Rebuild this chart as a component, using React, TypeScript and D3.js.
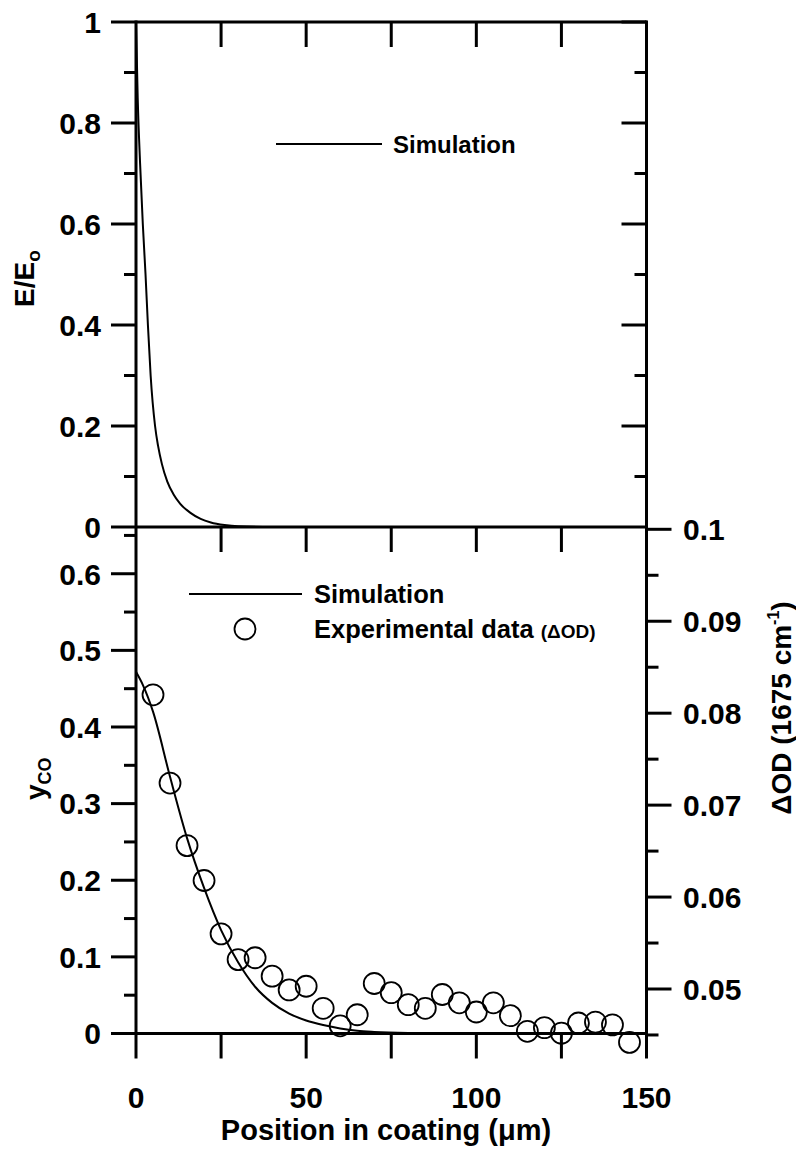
import React from 'react';
import * as d3 from 'd3';

// ---------- data ----------
// Top panel: simulated field E/Eo vs position (µm)
const fieldX = [0, 0.5, 1.2, 2.0, 2.8, 3.5, 4.3, 5.6, 6.5, 7.6, 9.2, 11, 13, 16, 19, 22, 26, 30, 40, 60, 150];
const fieldY = [1.0, 0.85, 0.72, 0.6, 0.5, 0.4, 0.3, 0.2, 0.16, 0.125, 0.09, 0.065, 0.046, 0.028, 0.016, 0.009, 0.004, 0.0015, 0.0002, 0, 0];

// Bottom panel: simulated y_CO vs position
const simX = [0, 2, 5, 10, 15, 20, 25, 30, 35, 40, 45, 50, 55, 60, 65, 70, 80, 90, 100, 150];
const simY = [0.472, 0.455, 0.42, 0.335, 0.255, 0.19, 0.135, 0.093, 0.061, 0.04, 0.026, 0.017, 0.011, 0.0065, 0.0035, 0.002, 0.0006, 0.0002, 0, 0];

// Bottom panel: experimental ΔOD (1675 cm-1) vs position
const expX = [5, 10, 15, 20, 25, 30, 35, 40, 45, 50, 55, 60, 65, 70, 75, 80, 85, 90, 95, 100, 105, 110, 115, 120, 125, 130, 135, 140, 145];
const expOD = [0.0820, 0.0724, 0.0656, 0.0618, 0.0560, 0.0532, 0.0534, 0.0514, 0.0499, 0.0503, 0.0479, 0.0460, 0.0472, 0.0506, 0.0496, 0.0483, 0.0479, 0.0494, 0.0485, 0.0475, 0.0485, 0.0471, 0.0454, 0.0458, 0.0452, 0.0463, 0.0464, 0.0461, 0.0442];

// Tick labels
const xTickVals = [0, 50, 100, 150];
const xTickLabels = ['0', '50', '100', '150'];
const topYTickVals = [0, 0.2, 0.4, 0.6, 0.8, 1];
const topYTickLabels = ['0', '0.2', '0.4', '0.6', '0.8', '1'];
const botYTickVals = [0, 0.1, 0.2, 0.3, 0.4, 0.5, 0.6];
const botYTickLabels = ['0', '0.1', '0.2', '0.3', '0.4', '0.5', '0.6'];
const odTickVals = [0.05, 0.06, 0.07, 0.08, 0.09, 0.1];
const odTickLabels = ['0.05', '0.06', '0.07', '0.08', '0.09', '0.1'];

// ---------- layout ----------
const W = 796, H = 1152;
const xL = 136, xR = 646.5;
const yTop = 22, yMid = 527, yBot = 1033.5;
const FONT = '"Liberation Sans", Arial, Helvetica, sans-serif';
const MAJ = 25, MIN = 12;
const AX = 3;

export default function App() {
  const x = d3.scaleLinear().domain([0, 150]).range([xL, xR]);
  const yE = d3.scaleLinear().domain([0, 1]).range([yMid, yTop]);
  const yC = d3.scaleLinear().domain([0, 0.661]).range([yBot, yMid]);
  const yOD = d3.scaleLinear().domain([0.04516, 0.10025]).range([yBot, yMid]);

  const lineE = d3.line<number>().x((_, i) => x(fieldX[i])).y((d) => yE(d)).curve(d3.curveMonotoneX);
  const lineC = d3.line<number>().x((_, i) => x(simX[i])).y((d) => yC(d)).curve(d3.curveMonotoneX);

  const xQuarter = d3.range(0, 151, 25);
  const xInner = d3.range(25, 150, 25);
  const topMinor = d3.range(0, 11).map((i) => i / 10);
  const botMinor = d3.range(0, 14).map((i) => i * 0.05);
  const odMinor = d3.range(0, 12).map((i) => 0.045 + i * 0.005);

  const tick = (x1: number, y1: number, x2: number, y2: number, key: string) => (
    <line key={key} x1={x1} y1={y1} x2={x2} y2={y2} stroke="#000" strokeWidth={AX} />
  );
  const isMajor = (v: number, step: number) => Math.abs(v / step - Math.round(v / step)) < 1e-6;

  return (
    <svg width={W} height={H} style={{ position: 'absolute', left: 0, top: 0, background: '#fff' }}
      fontFamily={FONT} fontWeight="bold">
      <rect width={W} height={H} fill="#fff" />

      {/* ---------- Top panel ---------- */}
      <line x1={xL} y1={yTop} x2={xR} y2={yTop} stroke="#000" strokeWidth={AX} />
      <line x1={xL} y1={yMid} x2={xR} y2={yMid} stroke="#000" strokeWidth={AX} />
      {xInner.map((v) => tick(x(v), yTop, x(v), yTop + MAJ, 'tt' + v))}
      {topMinor.map((v) => {
        const L = isMajor(v, 0.2) ? MAJ : MIN;
        return tick(xL - L, yE(v), xL, yE(v), 'tl' + v);
      })}
      {topMinor.map((v) => {
        const L = isMajor(v, 0.2) ? MAJ : MIN;
        return v === 0 ? null : tick(xR - L, yE(v), xR, yE(v), 'tr' + v);
      })}
      {topYTickVals.map((v, i) => (
        <text key={'tyl' + v} x={101} y={yE(v) + 10.8} fontSize={30} textAnchor="end">{topYTickLabels[i]}</text>
      ))}
      <path d={lineE(fieldY) || ''} fill="none" stroke="#000" strokeWidth={2} />
      <line x1={276} y1={144} x2={382} y2={144} stroke="#000" strokeWidth={2} />
      <text x={393} y={152.6} fontSize={24}>Simulation</text>
      <text transform={`translate(34,307) rotate(-90)`} fontSize={28} textAnchor="start">
        E/E<tspan fontSize={19} dy={6}>o</tspan>
      </text>

      {/* ---------- Bottom panel ---------- */}
      <line x1={xL} y1={yBot} x2={xR} y2={yBot} stroke="#000" strokeWidth={AX} />
      {xInner.map((v) => tick(x(v), yMid, x(v), yMid + MAJ, 'bt' + v))}
      {xQuarter.map((v) => tick(x(v), yBot, x(v), yBot + MAJ, 'bb' + v))}
      {botMinor.map((v) => {
        const L = isMajor(v, 0.1) ? MAJ : MIN;
        return tick(xL - L, yC(v), xL, yC(v), 'bl' + v);
      })}
      {odMinor.map((v) => {
        const L = isMajor(v, 0.01) ? MAJ : MIN;
        return tick(xR, yOD(v), xR + L, yOD(v), 'br' + v);
      })}
      {botYTickVals.map((v, i) => (
        <text key={'byl' + v} x={101} y={yC(v) + 10.8} fontSize={30} textAnchor="end">{botYTickLabels[i]}</text>
      ))}
      {odTickVals.map((v, i) => (
        <text key={'odl' + v} x={683} y={yOD(v) + 10.8} fontSize={30} textAnchor="start">{odTickLabels[i]}</text>
      ))}
      {xTickVals.map((v, i) => (
        <text key={'xl' + v} x={x(v)} y={1108} fontSize={30} textAnchor="middle">{xTickLabels[i]}</text>
      ))}
      <text x={386} y={1140} fontSize={29} textAnchor="middle">Position in coating (μm)</text>

      <path d={lineC(simY) || ''} fill="none" stroke="#000" strokeWidth={2} />
      {expOD.map((v, i) => (
        <circle key={'c' + i} cx={x(expX[i])} cy={yOD(v)} r={10.5} fill="none" stroke="#000" strokeWidth={1.8} />
      ))}

      <line x1={189} y1={594} x2={302} y2={594} stroke="#000" strokeWidth={2} />
      <text x={314} y={603} fontSize={25.5}>Simulation</text>
      <circle cx={245} cy={629} r={10.5} fill="none" stroke="#000" strokeWidth={1.8} />
      <text x={314} y={638} fontSize={25.5}>Experimental data <tspan fontSize={19}>(ΔOD)</tspan></text>

      <text transform={`translate(45,800) rotate(-90)`} fontSize={28} textAnchor="start">
        y<tspan fontSize={18} dy={6}>CO</tspan>
      </text>
      <text transform={`translate(791,708) rotate(-90)`} fontSize={28} textAnchor="middle">
        ΔOD (1675 cm<tspan fontSize={16} dy={-12}>-1</tspan><tspan dy={12}>)</tspan>
      </text>

      <line x1={xL} y1={yTop - 1.5} x2={xL} y2={yBot + 1.5} stroke="#000" strokeWidth={AX} />
      <line x1={xR} y1={yTop - 1.5} x2={xR} y2={yBot + 1.5} stroke="#000" strokeWidth={AX} />
    </svg>
  );
}
